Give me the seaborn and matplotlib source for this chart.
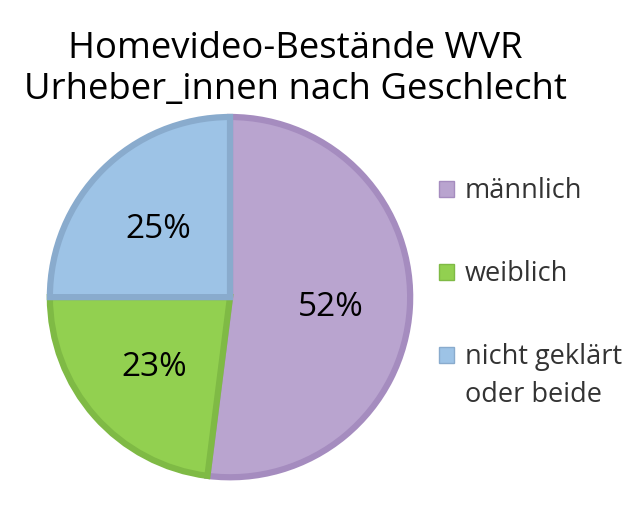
import matplotlib
matplotlib.use("Agg")
import matplotlib.pyplot as plt
import seaborn as sns
from matplotlib.patches import Patch

categories = ["männlich", "weiblich", "nicht geklärt", ]
category_extra_line = "oder beide"
values = [52, 23, 25]
fill_colors = ["#B9A4CF", "#92D050", "#9DC3E6"]
edge_colors = ["#A58CBF", "#7FBA45", "#89ABCD"]
title_lines = ["Homevideo-Bestände WVR", "Urheber_innen nach Geschlecht"]

sns.set_theme(style="white")
plt.rcParams['font.family'] = ['Open Sans', 'DejaVu Sans']

fig = plt.figure(figsize=(6.4, 5.13), dpi=100)
ax = fig.add_axes([0.0734, 0.0643, 0.572, 0.713])
wedges, texts, autotexts = ax.pie(
    values, colors=fill_colors, startangle=90, counterclock=False,
    autopct=lambda p: f"{p:.0f}%", pctdistance=0.56, radius=0.985,
    wedgeprops=dict(linewidth=4.5), textprops=dict(fontsize=24, color="black"))
for w, ec in zip(wedges, edge_colors):
    w.set_edgecolor(ec)
for t in autotexts:
    t.set_verticalalignment("center_baseline")
ax.set_xlim(-1, 1)
ax.set_ylim(-1, 1)
ax.set_aspect("equal")

fig.text(0.461, 1 - 58 / 513, title_lines[0], ha="center", va="baseline", fontsize=26.3, color="black")
fig.text(0.461, 1 - 99 / 513, title_lines[1], ha="center", va="baseline", fontsize=26.3, color="black")

handles = [Patch(facecolor=f, edgecolor=e, linewidth=1.0) for f, e in zip(fill_colors, edge_colors)]
leg = fig.legend(handles, categories, loc="upper left", bbox_to_anchor=(0.686, 0.654),
                 frameon=False, fontsize=19.5, labelspacing=2.03, handlelength=0.55,
                 handleheight=0.55, handletextpad=0.4, borderpad=0, borderaxespad=0)
for t in leg.get_texts():
    t.set_color("#333333")

fig.canvas.draw()
bb = leg.get_texts()[-1].get_window_extent()
fig.text(bb.x0 / fig.bbox.width, (bb.y0 - 38) / fig.bbox.height, category_extra_line,
         ha="left", va="bottom", fontsize=19.5, color="#333333")

fig.savefig("out.png", dpi=100)
